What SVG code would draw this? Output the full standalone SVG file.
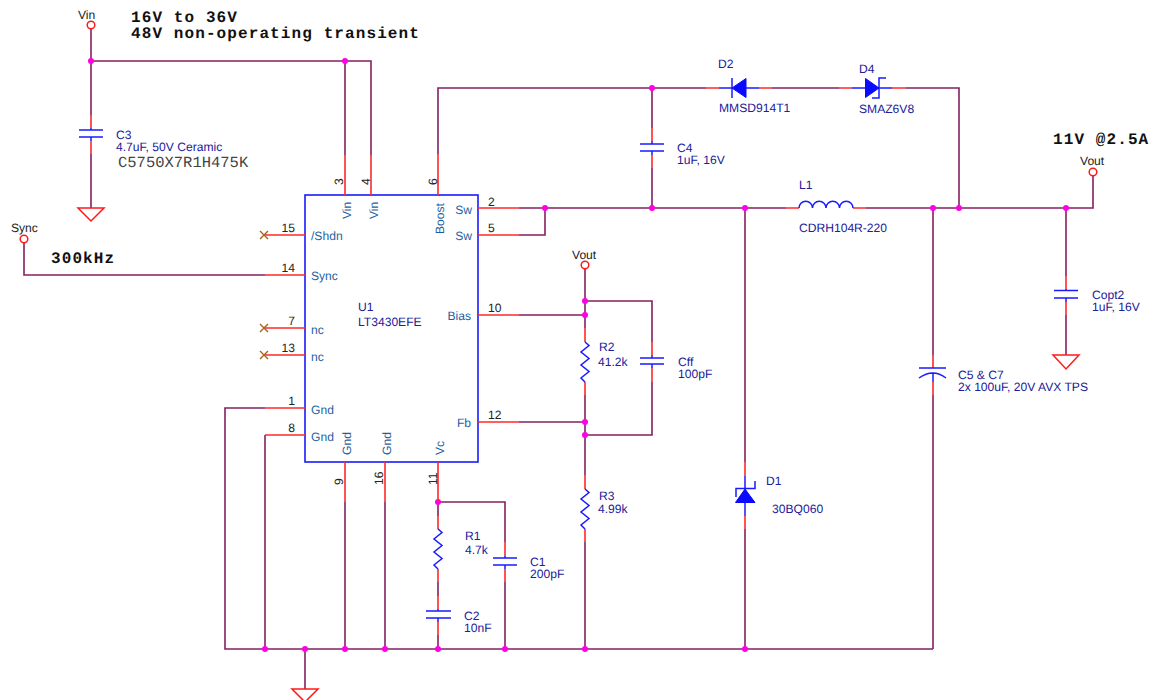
<svg xmlns="http://www.w3.org/2000/svg" width="1156" height="700" viewBox="0 0 1156 700">
<style>
text{font-family:"Liberation Sans",Arial,sans-serif;font-size:12.1px;text-rendering:geometricPrecision}
.w{fill:none;stroke:#84205f;stroke-width:1.6}
.r{fill:none;stroke:#ff2a2a;stroke-width:1.6}
.b{fill:none;stroke:#1a1aff;stroke-width:1.5}
.bf{fill:#0a0aff;stroke:#0a0aff;stroke-width:1}
.d{fill:#ff00e6}
.o{fill:#fff;stroke:#ff1a1a;stroke-width:1.5}
.g{fill:#fff;stroke:#ff1a1a;stroke-width:1.5}
.x{fill:none;stroke:#a8641e;stroke-width:1.4}
.p{fill:#20209a}
.n{fill:#1f5f9f}
.k{fill:#222}
.m{font-family:"Liberation Mono","Courier New",monospace;font-size:16px;letter-spacing:1.1px;font-weight:bold;fill:#111}
.c{font-family:"Liberation Mono","Courier New",monospace;font-size:15.5px;fill:#444}
</style>
<defs>
<path id="zig" class="b" d="M0,0 L4,3.5 L-4,10 L4,16.5 L-4,23 L4,29.5 L-4,36 L0,40"/>
<path id="cross" class="x" d="M-4,-4 L4,4 M-4,4 L4,-4"/>
</defs>
<g id="connectors">
<path class="w" d="M91,29 V115 M91,154 V208 M91,61 H371 V155 M345,61 V155"/>
<path class="w" d="M24,243 V275 H265"/>
<path class="w" d="M438,154 V88 H706 M772,88 H839 M906,88 H959 V208"/>
<path class="w" d="M652,88 V128 M652,168 V208"/>
<path class="w" d="M519,208 H786 M866,208 H1093 V176 M519,235 H545 V208"/>
<path class="w" d="M585,269 V328 M519,315 H585 M585,301 H652 V342 M652,382 V435 H585 M585,395 V475 M519,422 H585 M585,542 V649"/>
<path class="w" d="M745,208 V462 M745,529 V649"/>
<path class="w" d="M933,208 V355 M933,395 V649 M1066,208 V276 M1066,315 V355"/>
<path class="w" d="M265,408 H225 V649 H933 M265,435 V649 M345,502 V649 M385,502 V649 M305,649 V689"/>
<path class="w" d="M438,502 V516 M438,582 V596 M438,635 V649 M438,502 H505 V542 M505,582 V649"/>
<g id="junctions">
<circle class="d" cx="91" cy="61" r="3"/><circle class="d" cx="345" cy="61" r="3"/>
<circle class="d" cx="652" cy="88" r="3"/><circle class="d" cx="545" cy="208" r="3"/>
<circle class="d" cx="652" cy="208" r="3"/><circle class="d" cx="745" cy="208" r="3"/>
<circle class="d" cx="933" cy="208" r="3"/><circle class="d" cx="959" cy="208" r="3"/>
<circle class="d" cx="1066" cy="208" r="3"/><circle class="d" cx="585" cy="301" r="3"/>
<circle class="d" cx="585" cy="315" r="3"/><circle class="d" cx="585" cy="422" r="3"/>
<circle class="d" cx="585" cy="435" r="3"/><circle class="d" cx="438" cy="502" r="3"/>
<circle class="d" cx="265" cy="649" r="3"/><circle class="d" cx="305" cy="649" r="3"/>
<circle class="d" cx="345" cy="649" r="3"/><circle class="d" cx="385" cy="649" r="3"/>
<circle class="d" cx="438" cy="649" r="3"/><circle class="d" cx="505" cy="649" r="3"/>
<circle class="d" cx="585" cy="649" r="3"/><circle class="d" cx="745" cy="649" r="3"/>
</g>
</g>
<g id="notes">
<text class="m" x="131" y="22">16V to 36V</text>
<text class="m" x="131" y="38">48V non-operating transient</text>
<text class="m" x="51" y="263">300kHz</text>
<text class="m" x="1053" y="144">11V @2.5A</text>
</g>
<g id="port-vin"><circle class="o" cx="91" cy="25" r="3.800"/><text class="k" x="78" y="19">Vin</text></g>
<g id="port-sync"><circle class="o" cx="24" cy="239" r="3.800"/><text class="k" x="11" y="232">Sync</text></g>
<g id="port-vout1"><circle class="o" cx="585" cy="265" r="3.800"/><text class="k" x="572" y="259">Vout</text></g>
<g id="port-vout2"><circle class="o" cx="1093" cy="172" r="3.800"/><text class="k" x="1080" y="165">Vout</text></g>
<g id="gnd1"><path class="g" d="M78,208 H104 L91,221 Z"/></g>
<g id="gnd2"><path class="g" d="M1053,355 H1079 L1066,369 Z"/></g>
<g id="gnd3"><path class="g" d="M292,689 H318 L305,702 Z"/></g>
<g id="U1">
<rect x="305" y="195" width="173" height="267" fill="none" stroke="#1a1aff" stroke-width="1.600"/>
<path class="r" d="M345,155 V195 M371,155 V195 M438,154 V195 M265,235 H305 M265,275 H305 M265,328 H305 M265,355 H305 M265,408 H305 M265,435 H305 M478,208 H519 M478,235 H519 M478,315 H519 M478,422 H519 M345,462 V502 M385,462 V502 M438,462 V502"/>
<use href="#cross" x="264" y="235"/><use href="#cross" x="264" y="328"/><use href="#cross" x="264" y="355"/>
<text class="p" x="358" y="311">U1</text><text class="p" x="358" y="326">LT3430EFE</text>
<g class="n">
<text x="311" y="240">/Shdn</text><text x="311" y="280">Sync</text><text x="311" y="334">nc</text><text x="311" y="361">nc</text><text x="311" y="414">Gnd</text><text x="311" y="441">Gnd</text>
<text x="472" y="214" text-anchor="end">Sw</text><text x="472" y="240" text-anchor="end">Sw</text><text x="471" y="320" text-anchor="end">Bias</text><text x="471" y="427" text-anchor="end">Fb</text>
<text transform="translate(351 219) rotate(-90)">Vin</text><text transform="translate(378 219) rotate(-90)">Vin</text><text transform="translate(444 234) rotate(-90)">Boost</text>
<text transform="translate(351 455) rotate(-90)">Gnd</text><text transform="translate(391 455) rotate(-90)">Gnd</text><text transform="translate(444 455) rotate(-90)">Vc</text>
</g>
<g class="k">
<text x="295" y="232" text-anchor="end">15</text><text x="295" y="272" text-anchor="end">14</text><text x="295" y="325" text-anchor="end">7</text><text x="295" y="352" text-anchor="end">13</text><text x="295" y="405" text-anchor="end">1</text><text x="295" y="432" text-anchor="end">8</text>
<text x="488" y="206">2</text><text x="488" y="232">5</text><text x="488" y="312">10</text><text x="488" y="419">12</text>
<text transform="translate(343 185) rotate(-90)">3</text><text transform="translate(370 185) rotate(-90)">4</text><text transform="translate(437 185) rotate(-90)">6</text>
<text transform="translate(343 485) rotate(-90)">9</text><text transform="translate(383 485) rotate(-90)">16</text><text transform="translate(437 485) rotate(-90)">11</text>
</g>
</g>
<g id="C3"><path class="r" d="M91,115 V128 M91,141 V154"/><path class="b" d="M79,130 H103 M79,137 H103 M91,128 V130 M91,137 V141"/><text class="p" x="116" y="139">C3</text><text class="p" x="116" y="151">4.7uF, 50V Ceramic</text><text class="c" x="118" y="167">C5750X7R1H475K</text></g>
<g id="C4"><path class="r" d="M652,128 V141 M652,155 V168"/><path class="b" d="M640,144 H664 M640,151 H664 M652,141 V144 M652,151 V155"/><text class="p" x="677" y="152">C4</text><text class="p" x="677" y="164">1uF, 16V</text></g>
<g id="D2"><path class="r" d="M706,88 H719 M759,88 H772"/><path class="b" d="M719,88 H732 M746,88 H759 M732,78 V98"/><path class="bf" d="M732,88 L746,78.500 V97.500 Z"/><text class="p" x="718" y="68">D2</text><text class="p" x="719" y="112">MMSD914T1</text></g>
<g id="D4"><path class="r" d="M839,88 H852 M892,88 H906"/><path class="b" d="M852,88 H865 M879,88 H892 M886,78 H879 V98 H872"/><path class="bf" d="M879,88 L865.500,78.500 V97.500 Z"/><text class="p" x="859" y="73">D4</text><text class="p" x="859" y="113">SMAZ6V8</text></g>
<g id="L1"><path class="r" d="M786,208 H799 M853,208 H866"/><path class="b" d="M799,208 a6.750,6.750 0 0 1 13.500,0 a6.750,6.750 0 0 1 13.500,0 a6.750,6.750 0 0 1 13.500,0 a6.750,6.750 0 0 1 13.500,0"/><text class="p" x="799" y="189">L1</text><text class="p" x="799" y="232">CDRH104R-220</text></g>
<g id="R2"><path class="r" d="M585,328 V342 M585,382 V395"/><use href="#zig" x="585" y="342"/><text class="p" x="599" y="351">R2</text><text class="p" x="598" y="366">41.2k</text></g>
<g id="R3"><path class="r" d="M585,475 V489 M585,529 V542"/><use href="#zig" x="585" y="489"/><text class="p" x="599" y="500">R3</text><text class="p" x="598" y="513">4.99k</text></g>
<g id="Cff"><path class="r" d="M652,342 V355 M652,368 V382"/><path class="b" d="M640,358 H664 M640,364 H664 M652,355 V358 M652,364 V368"/><text class="p" x="678" y="366">Cff</text><text class="p" x="678" y="378">100pF</text></g>
<g id="D1"><path class="r" d="M745,462 V476 M745,516 V529"/><path class="b" d="M745,476 V489 M745,502 V516 M755,481 V488.500 H736 V497"/><path class="bf" d="M745,489 L755,502.500 H735.500 Z"/><text class="p" x="766" y="485">D1</text><text class="p" x="772" y="513">30BQ060</text></g>
<g id="C5C7"><path class="r" d="M933,355 V368 M933,382 V395"/><path class="b" d="M919,368 H946 M919,378 Q933,368 946,378 M933,373 V382"/><text class="p" x="958" y="379">C5 &amp; C7</text><text class="p" x="958" y="391">2x 100uF, 20V AVX TPS</text></g>
<g id="Copt2"><path class="r" d="M1066,276 V289 M1066,302 V315"/><path class="b" d="M1054,290.500 H1078 M1054,298 H1078 M1066,289 V291 M1066,298 V302"/><text class="p" x="1092" y="299">Copt2</text><text class="p" x="1092" y="311">1uF, 16V</text></g>
<g id="R1"><path class="r" d="M438,516 V529 M438,569 V582"/><use href="#zig" x="438" y="529"/><text class="p" x="465" y="540">R1</text><text class="p" x="465" y="554">4.7k</text></g>
<g id="C1"><path class="r" d="M505,542 V556 M505,569 V582"/><path class="b" d="M493,558 H517 M493,565 H517 M505,556 V558 M505,565 V569"/><text class="p" x="530" y="566">C1</text><text class="p" x="530" y="578">200pF</text></g>
<g id="C2"><path class="r" d="M438,596 V609 M438,622 V635"/><path class="b" d="M426,611 H451 M426,618 H451 M438,609 V611 M438,618 V622"/><text class="p" x="464" y="620">C2</text><text class="p" x="464" y="632">10nF</text></g>
</svg>
